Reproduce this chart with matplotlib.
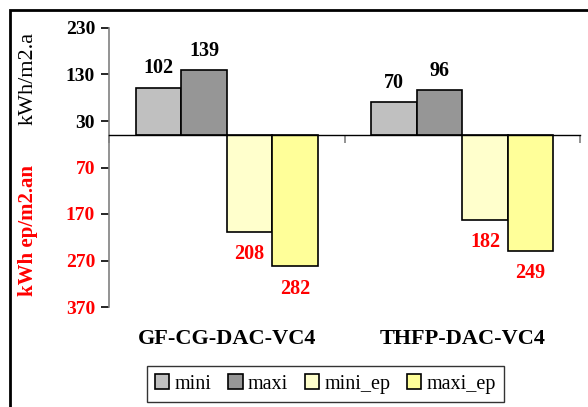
import numpy as np
import matplotlib
matplotlib.use('Agg')
import matplotlib.pyplot as plt
from matplotlib.patches import Rectangle

plt.rcParams['font.family'] = ['Liberation Serif', 'DejaVu Serif']

# données
categories = ['GF-CG-DAC-VC4', 'THFP-DAC-VC4']
series_names = ['mini', 'maxi', 'mini_ep', 'maxi_ep']
mini = [102, 70]
maxi = [139, 96]
mini_ep = [-208, -182]
maxi_ep = [-282, -249]
yticks = [230, 130, 30, -70, -170, -270, -370]

series = [mini, maxi, mini_ep, maxi_ep]
colors = ['#C0C0C0', '#969696', '#FFFFCC', '#FFFF99']

W, H = 588, 407
fig = plt.figure(figsize=(W / 100, H / 100), dpi=100)
ax = fig.add_axes([109 / W, 1 - 307 / H, (580 - 109) / W, (307 - 28) / H])

# cadre autour du graphique
fig.patches.append(Rectangle((10 / W, -0.5), 2, 1.5 - 10 / H, transform=fig.transFigure,
                             fill=False, edgecolor='black', linewidth=2))

x = np.arange(len(categories))
w = 0.193
for i, (name, vals, c) in enumerate(zip(series_names, series, colors)):
    xpos = x + (i - 1.5) * w
    ax.bar(xpos, vals, width=w, color=c, edgecolor='black', linewidth=1.2, label=name, zorder=2)
    for xp, v in zip(xpos, vals):
        if v > 0:
            ax.annotate(str(v), (xp, v), xytext=(0, 7), textcoords='offset points',
                        ha='center', va='bottom', fontsize=14.5, fontweight='bold', color='black')
        else:
            ax.annotate(str(abs(v)), (xp, v), xytext=(0, -9), textcoords='offset points',
                        ha='center', va='top', fontsize=14.5, fontweight='bold', color='red')

ax.set_xlim(-0.5, 1.5)
ax.set_ylim(-370, 230)

# axes
for s in ['top', 'right']:
    ax.spines[s].set_visible(False)
ax.spines['left'].set_color('#808080')
ax.spines['left'].set_linewidth(1.2)
ax.spines['bottom'].set_position(('data', 0))
ax.spines['bottom'].set_color('black')
ax.spines['bottom'].set_linewidth(1)
ax.spines['bottom'].set_zorder(3)

ax.set_xticks([-0.5, 0.5, 1.5])
ax.set_xticklabels([])
ax.tick_params(axis='x', direction='out', length=6, color='#808080', width=1.2)

ax.set_yticks(yticks)
ax.set_yticklabels([str(abs(t)) for t in yticks], fontsize=14, fontweight='bold')
for lbl, t in zip(ax.get_yticklabels(), yticks):
    lbl.set_color('black' if t > 0 else 'red')
ax.tick_params(axis='y', direction='out', length=6, color='black', width=1.2, pad=4)

# noms des catégories
for xi, cat in zip(x, categories):
    ax.text(xi, -0.115, cat, transform=ax.get_xaxis_transform(), ha='center', va='center',
            fontsize=16, fontweight='bold')

# titres des axes
fig.text(28 / W, 1 - 78 / H, 'kWh/m2.a', rotation=90, ha='center', va='center',
         fontsize=16, color='black')
fig.text(28 / W, 1 - 231 / H, 'kWh ep/m2.an', rotation=90, ha='center', va='center',
         fontsize=15, color='red', fontweight='bold')

leg = fig.legend(loc='center', bbox_to_anchor=(325.5 / W, 1 - 384 / H), ncol=4,
                 fontsize=14.5, frameon=True, fancybox=False, handlelength=0.7,
                 handleheight=0.7, handletextpad=0.25, columnspacing=0.85,
                 borderpad=0.4, borderaxespad=0)
leg.get_frame().set_edgecolor('black')
leg.get_frame().set_linewidth(1)

fig.savefig('out.png', dpi=100)
